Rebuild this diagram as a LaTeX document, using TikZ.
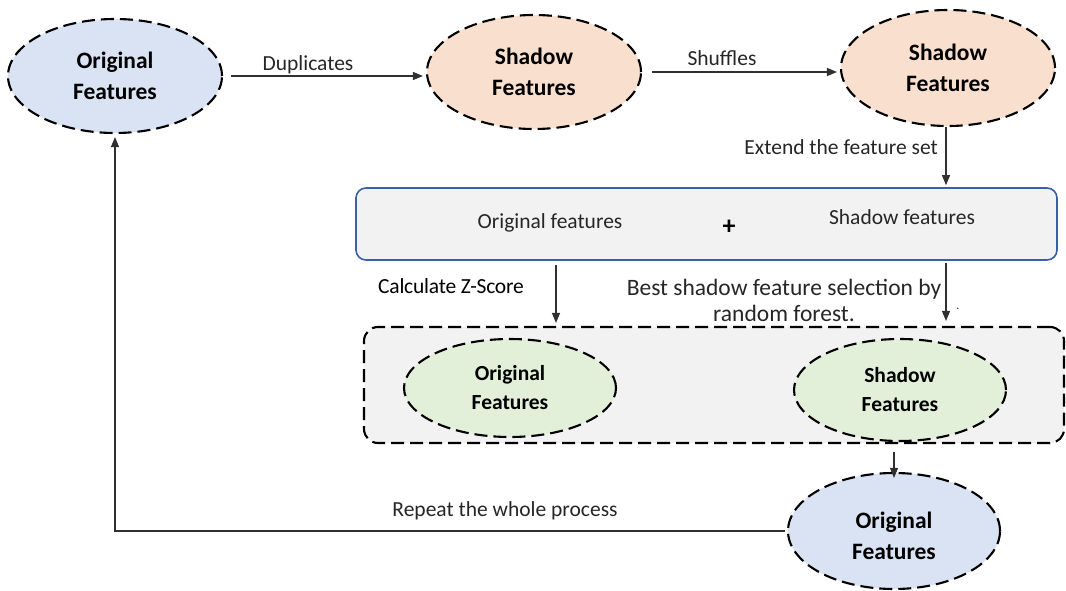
\documentclass[tikz,border=0pt]{standalone}
\usepackage{fontspec}
\setmainfont{Carlito}
\usetikzlibrary{shapes.geometric,arrows.meta}
\definecolor{eblue}{HTML}{DAE3F3}
\definecolor{epeach}{HTML}{F9DFCD}
\definecolor{egreen}{HTML}{E2EFD9}
\definecolor{boxgray}{HTML}{F2F2F2}
\definecolor{boxblue}{HTML}{3A5FA8}
\definecolor{linegray}{HTML}{303030}
\tikzset{
  dsh/.style={draw=black, line width=2.1pt, dash pattern=on 13pt off 6pt},
  ell/.style={ellipse, dsh, inner sep=0pt, align=center, font=\fontsize{23.5}{31}\selectfont\bfseries},
  etext/.style={inner sep=0pt, align=center, font=\fontsize{23.5}{31}\selectfont\bfseries},
  lbl/.style={font=\fontsize{21.5}{26}\selectfont, inner sep=0pt, text=black!85},
  arr/.style={-{Triangle[length=10pt,width=8pt]}, line width=1.1pt, draw=linegray},
}
\begin{document}
\begin{tikzpicture}[x=1pt,y=-1pt]
\useasboundingbox (0,0) rectangle (1066,591);
% containers
\node[draw=boxblue, line width=1.6pt, fill=boxgray, rounded corners=10pt,
  minimum width=701pt, minimum height=72pt, inner sep=0pt] (box) at (706.5,224) {};
\node[dsh, fill=boxgray, rounded corners=14pt,
  minimum width=700pt, minimum height=116pt, inner sep=0pt] (dbox) at (714,385) {};
% ellipses
\node[ell, fill=eblue, minimum width=214pt, minimum height=114pt] (o1) at (115,76) {Original\\Features};
\node[ell, fill=epeach, minimum width=214pt, minimum height=114pt] (s1) at (534,72) {Shadow\\Features};
\node[ell, fill=epeach, minimum width=214pt, minimum height=116pt] (s2) at (948,68) {Shadow\\Features};
\node[ell, fill=egreen, minimum width=212pt, minimum height=98pt,
  font=\fontsize{21.5}{29}\selectfont\bfseries] (o3) at (510,388) {Original\\Features};
\node[ell, fill=egreen, minimum width=212pt, minimum height=102pt,
  font=\fontsize{21.5}{29}\selectfont\bfseries] (s3) at (900,390) {Shadow\\Features};
\node[ell, fill=eblue, minimum width=212pt, minimum height=116pt] (o4) at (894,531) {};
\node[etext] (o4t) at ([yshift=-5pt]o4.center) {Original\\Features};
% box texts
\node[lbl] (tof) at (550,223) {Original features};
\node[font=\fontsize{26}{26}\selectfont\bfseries, inner sep=0pt] (plus) at (729,227) {+};
\node[lbl] (tsf) at (902,217) {Shadow features};
% x reference coordinates
\coordinate (xz) at (556,0);
\coordinate (xr) at (946,0);
% connectors
\draw[arr, shorten <=8pt, shorten >=3pt] (o1.east) -- (o1.east -| s1.west);
\draw[arr, shorten <=10pt, shorten >=3pt] (s1.east) -- (s1.east -| s2.west);
\draw[arr, shorten >=2pt] (s2.south -| xr) -- (box.north -| xr);
\draw[arr, shorten <=4pt, shorten >=3pt] (box.south -| xz) -- (dbox.north -| xz);
\draw[arr, shorten <=2pt, shorten >=5pt] (box.south -| xr) -- (dbox.north -| xr);
\draw[arr, shorten <=8pt, shorten >=-6pt] (dbox.south -| o4.north) -- (o4.north);
\draw[arr, shorten <=2pt, shorten >=3pt] (o4.west) -- (o4.west -| o1.south) -- (o1.south);
% labels
\node[lbl] (ldup) at (308,65) {Duplicates};
\node[lbl] (lshuf) at (722,58) {Shuffles};
\node[lbl, anchor=east] (lext) at (938,147) {Extend the feature set};
\node[lbl, font=\fontsize{21.5}{26}\selectfont\addfontfeature{LetterSpace=-1}, text=black] (lz) at (451,286) {Calculate Z-Score};
\node[lbl, font=\fontsize{23.5}{26}\selectfont, align=center] (lbest) at (784,300) {Best shadow feature selection by\\random forest.};
\node[lbl, font=\fontsize{12}{12}\selectfont] (dot) at (958,309) {.};
\node[lbl] (lrep) at (505,511) {Repeat the whole process};
\end{tikzpicture}
\end{document}
